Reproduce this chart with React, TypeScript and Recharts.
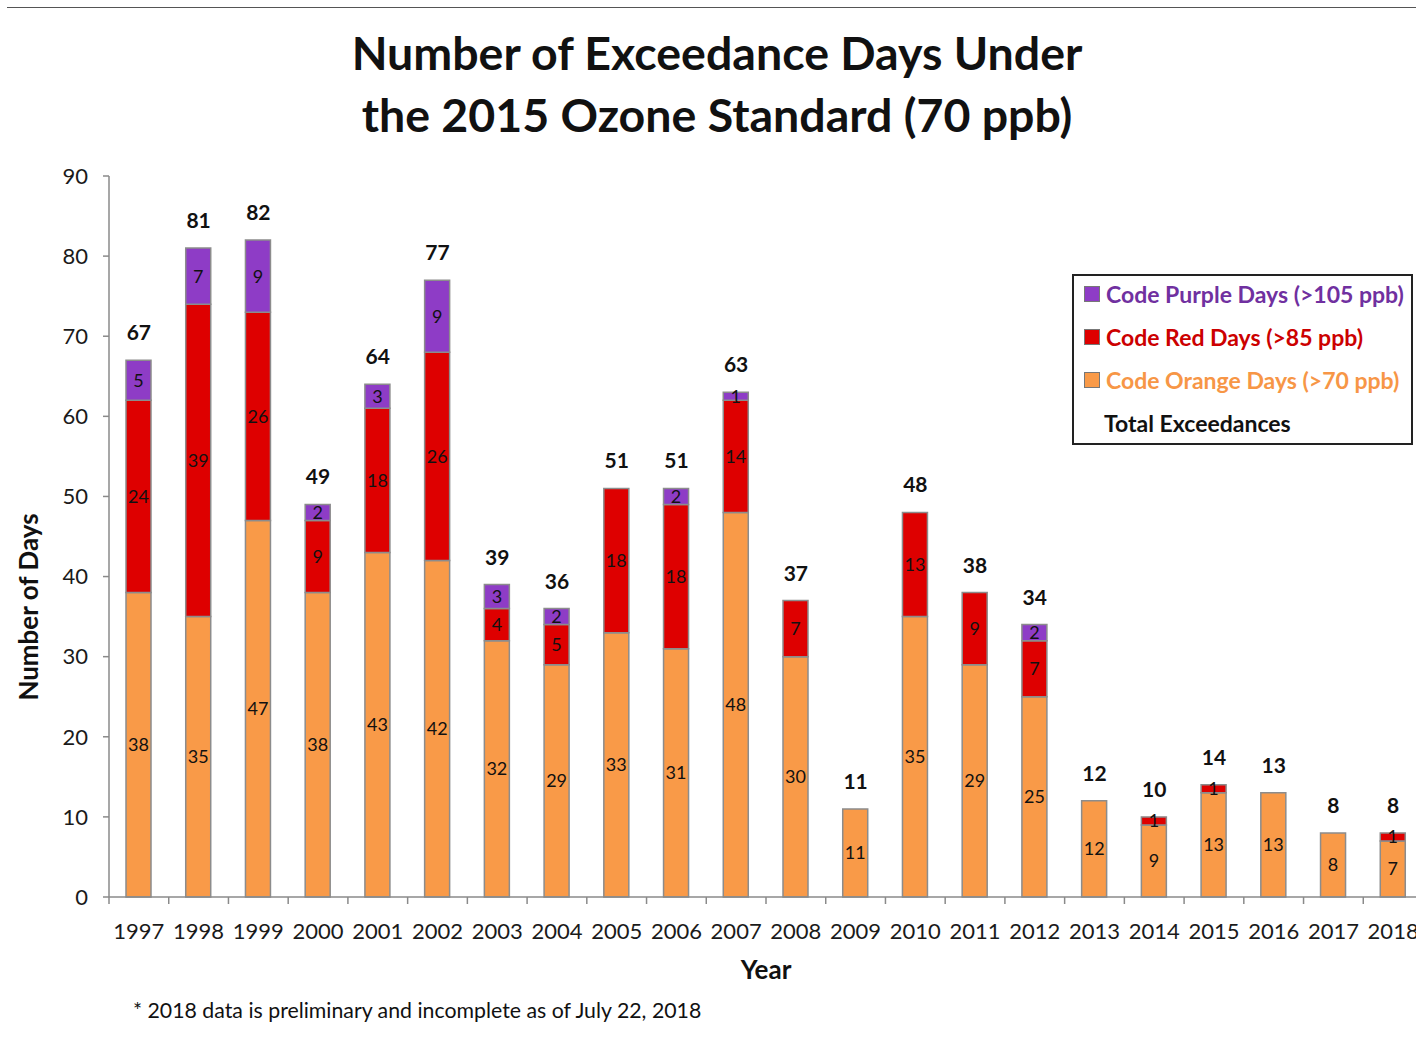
import React from 'react';
import { ComposedChart, Bar, Line, XAxis, YAxis, LabelList, Label } from 'recharts';

const years = ['1997','1998','1999','2000','2001','2002','2003','2004','2005','2006','2007','2008','2009','2010','2011','2012','2013','2014','2015','2016','2017','2018'];
const orangeDays = [38,35,47,38,43,42,32,29,33,31,48,30,11,35,29,25,12,9,13,13,8,7];
const redDays = [24,39,26,9,18,26,4,5,18,18,14,7,0,13,9,7,0,1,1,0,0,1];
const purpleDays = [5,7,9,2,3,9,3,2,0,2,1,0,0,0,0,2,0,0,0,0,0,0];
const totalDays = [67,81,82,49,64,77,39,36,51,51,63,37,11,48,38,34,12,10,14,13,8,8];
const yTicks = [0,10,20,30,40,50,60,70,80,90];

const data = years.map((y, i) => ({
  year: y,
  orange: orangeDays[i],
  red: redDays[i],
  purple: purpleDays[i],
  total: totalDays[i],
}));

const FONT = 'Lato, "Open Sans", sans-serif';
const ORANGE = '#F99A48';
const RED = '#DE0000';
const PURPLE = '#8E3CC6';
const BORDER = '#8c8c8c';

const hideZero = (v: any) => (v ? v : '');

const XTick = (props: any) => {
  const { x, y, payload } = props;
  const half = payload && payload.offset ? payload.offset : 29.86;
  return (
    <g>
      <line x1={x - half} y1={y - 8} x2={x - half} y2={y - 1} stroke="#8a8a8a" strokeWidth={1.5} />
      <text x={x} y={y + 34} textAnchor="middle" fontSize={22} fill="#1a1a1a" fontFamily={FONT}>
        {payload.value}
      </text>
    </g>
  );
};

const LegendBox = () => {
  const items = [
    { color: PURPLE, text: 'Code Purple Days (>105 ppb)', tc: '#7030A0' },
    { color: RED, text: 'Code Red Days (>85 ppb)', tc: '#CC0000' },
    { color: ORANGE, text: 'Code Orange Days (>70 ppb)', tc: '#F79646' },
  ];
  return (
    <div
      style={{
        position: 'absolute',
        left: 1072,
        top: 274,
        width: 337,
        height: 167,
        border: '2px solid #222',
        background: '#fff',
        fontFamily: FONT,
        fontWeight: 700,
        fontSize: 23,
        boxSizing: 'content-box',
      }}
    >
      {items.map((it, i) => (
        <div key={i} style={{ position: 'absolute', left: 10, top: 3 + i * 43, height: 30, display: 'flex', alignItems: 'center' }}>
          <span style={{ display: 'inline-block', width: 14, height: 14, background: it.color, border: '1.5px solid #777', marginRight: 6 }} />
          <span style={{ color: it.tc, whiteSpace: 'nowrap' }}>{it.text}</span>
        </div>
      ))}
      <div style={{ position: 'absolute', left: 30, top: 132, height: 30, display: 'flex', alignItems: 'center', color: '#111', whiteSpace: 'nowrap' }}>
        Total Exceedances
      </div>
    </div>
  );
};

export default function App() {
  return (
    <div style={{ position: 'absolute', left: 0, top: 0, width: 1416, height: 1039, overflow: 'hidden', background: '#fff', fontFamily: FONT }}>
      <div style={{ position: 'absolute', left: 7, top: 7, width: 1409, height: 0, borderTop: '1.5px solid #555' }} />
      <div
        style={{
          position: 'absolute',
          left: 0,
          width: 1434,
          top: 21,
          textAlign: 'center',
          fontSize: 46.5,
          fontWeight: 700,
          lineHeight: '62px',
          color: '#111',
          fontFamily: FONT,
        }}
      >
        Number of Exceedance Days Under
        <br />
        the 2015 Ozone Standard (70 ppb)
      </div>
      <div style={{ position: 'absolute', left: 0, top: 0 }}>
        <ComposedChart
          width={1440}
          height={1039}
          data={data}
          margin={{ top: 176, right: 17, bottom: 52, left: 49 }}
          barSize={25}
        >
          <XAxis
            dataKey="year"
            tick={<XTick />}
            tickLine={false}
            axisLine={{ stroke: '#8a8a8a', strokeWidth: 1.5 }}
            interval={0}
            height={90}
          >
            <Label value="Year" position="insideBottom" offset={8} style={{ fontSize: 26, fontWeight: 700, fill: '#111', fontFamily: FONT }} />
          </XAxis>
          <YAxis
            domain={[0, 90]}
            ticks={yTicks}
            width={60}
            tickSize={6}
            tickMargin={15}
            tick={{ fontSize: 22, fill: '#1a1a1a', fontFamily: FONT }}
            tickLine={{ stroke: '#8a8a8a', strokeWidth: 1.5 }}
            axisLine={{ stroke: '#8a8a8a', strokeWidth: 1.5 }}
            interval={0}
          />
          <Bar dataKey="orange" stackId="a" fill={ORANGE} stroke={BORDER} strokeWidth={1.5} isAnimationActive={false}>
            <LabelList dataKey="orange" position="center" formatter={hideZero} style={{ fontSize: 18, fill: '#111', fontFamily: FONT }} />
          </Bar>
          <Bar dataKey="red" stackId="a" fill={RED} stroke={BORDER} strokeWidth={1.5} isAnimationActive={false}>
            <LabelList dataKey="red" position="center" formatter={hideZero} style={{ fontSize: 18, fill: '#111', fontFamily: FONT }} />
          </Bar>
          <Bar dataKey="purple" stackId="a" fill={PURPLE} stroke={BORDER} strokeWidth={1.5} isAnimationActive={false}>
            <LabelList dataKey="purple" position="center" formatter={hideZero} style={{ fontSize: 18, fill: '#111', fontFamily: FONT }} />
          </Bar>
          <Line
            dataKey="total"
            stroke="none"
            strokeWidth={0}
            dot={false}
            activeDot={false}
            legendType="none"
            isAnimationActive={false}
          >
            <LabelList dataKey="total" position="top" offset={20} style={{ fontSize: 21, fontWeight: 700, fill: '#111', fontFamily: FONT }} />
          </Line>
        </ComposedChart>
      </div>
      <div
        style={{
          position: 'absolute',
          left: 28,
          top: 607,
          transform: 'translate(-50%, -50%) rotate(-90deg)',
          fontSize: 26,
          fontWeight: 700,
          color: '#111',
          fontFamily: FONT,
          whiteSpace: 'nowrap',
          lineHeight: '30px',
        }}
      >
        Number of Days
      </div>
      <LegendBox />
      <div style={{ position: 'absolute', left: 133, top: 997, fontSize: 21.3, color: '#111', fontFamily: FONT, whiteSpace: 'nowrap' }}>
        * 2018 data is preliminary and incomplete as of July 22, 2018
      </div>
    </div>
  );
}
